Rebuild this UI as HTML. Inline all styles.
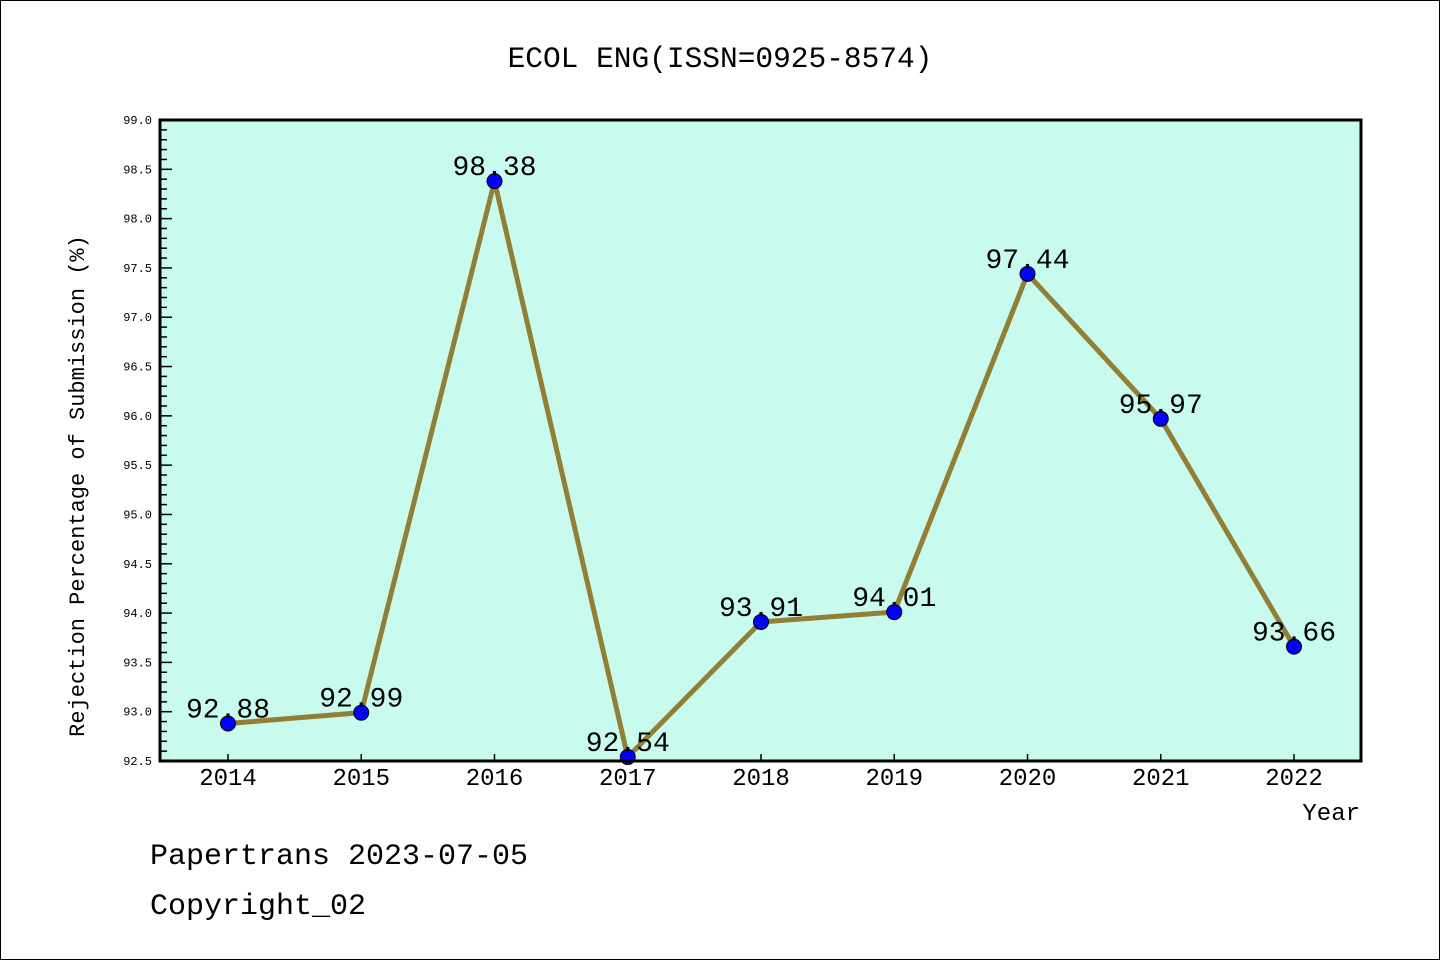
<!DOCTYPE html>
<html><head><meta charset="utf-8"><style>
html,body{margin:0;padding:0;background:#fff}
svg{display:block}
text{font-family:"Liberation Mono",monospace}
</style></head><body>
<svg id="chart" width="1440" height="960" xmlns="http://www.w3.org/2000/svg">
<rect x="0.5" y="0.5" width="1439" height="959" fill="#fff" stroke="#000" stroke-width="1"/>
<text x="720" y="67" font-size="29.5" text-anchor="middle">ECOL ENG(ISSN=0925-8574)</text>
<rect x="160" y="120" width="1201" height="641" fill="#c8fbee"/>
<g id="yticks"></g><g id="xticks"></g><g id="series"></g>
<rect x="160" y="120" width="1201" height="641" fill="none" stroke="#000" stroke-width="3"/>
<text transform="translate(84,486) rotate(-90)" font-size="22" text-anchor="middle">Rejection Percentage of Submission (%)</text>
<text x="1360" y="820" font-size="24" text-anchor="end">Year</text>
<text x="150" y="864" font-size="30">Papertrans 2023-07-05</text>
<text x="150" y="914" font-size="30">Copyright_02</text>
</svg>
<script>
const years = ["2014","2015","2016","2017","2018","2019","2020","2021","2022"];
const values = [92.88, 92.99, 98.38, 92.54, 93.91, 94.01, 97.44, 95.97, 93.66];
const yTickLabels = ["92.5","93.0","93.5","94.0","94.5","95.0","95.5","96.0","96.5","97.0","97.5","98.0","98.5","99.0"];
const NS="http://www.w3.org/2000/svg";
const yMin=92.5,yMax=99.0,plotTop=120,plotBot=761;
function ys(v){return plotBot-(v-yMin)/(yMax-yMin)*(plotBot-plotTop);}
function xs(i){return 228+i*(1294-228)/(years.length-1);}
function mk(tag,attrs,parent){const e=document.createElementNS(NS,tag);for(const k in attrs)e.setAttribute(k,attrs[k]);parent.appendChild(e);return e;}
const yg=document.getElementById('yticks'),xg=document.getElementById('xticks'),sg=document.getElementById('series');
for(let k=0;k<=65;k++){const v=yMin+k*0.1;const major=k%5===0;
 const t=mk('line',{x1:160,x2:major?172:167,y1:ys(v),y2:ys(v),stroke:'#000','stroke-width':1.5},yg);
 
 }
yTickLabels.forEach(l=>{const t=mk('text',{x:152,y:ys(parseFloat(l))+4,'font-size':12,'text-anchor':'end'},yg);t.textContent=l;
 
 });
years.forEach((y,i)=>{const t=mk('line',{x1:xs(i),x2:xs(i),y1:plotBot,y2:plotBot-7,stroke:'#000','stroke-width':1.5},xg);
 
 
 const l=mk('text',{x:xs(i),y:785,'font-size':24,'text-anchor':'middle'},xg);l.textContent=y;
 
 });
const pts=values.map((v,i)=>xs(i)+','+ys(v)).join(' ');
const pl=mk('polyline',{points:pts,fill:'none',stroke:'#927f36','stroke-width':5,'stroke-linejoin':'round'},sg);


values.forEach((v,i)=>{const c=mk('circle',{cx:xs(i),cy:ys(v),r:7.5,fill:'#0000ff',stroke:'#000','stroke-width':1},sg);
 
 });
values.forEach((v,i)=>{const t=mk('text',{x:xs(i),y:ys(v)-6,'font-size':28,'text-anchor':'middle'},sg);t.textContent=v.toFixed(2);
 
 });
</script>
</body></html>
